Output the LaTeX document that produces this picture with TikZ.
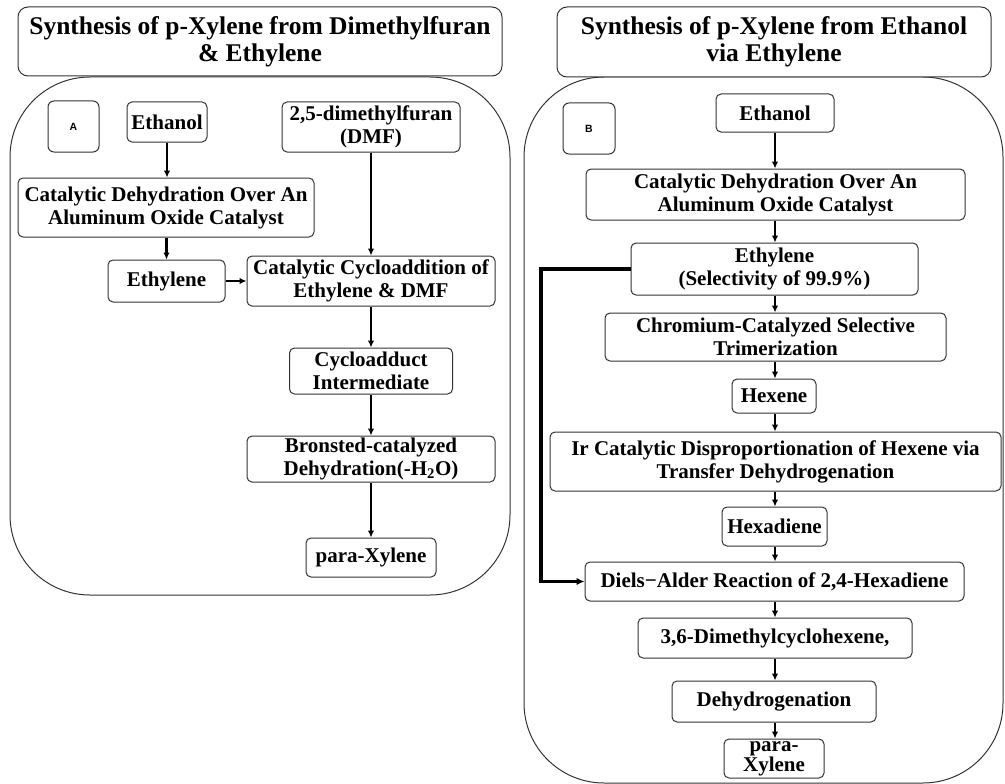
\documentclass[tikz,border=0pt]{standalone}
\usepackage{fontspec}
\setmainfont{Liberation Serif}
\newfontfamily\labelfont{Liberation Sans}
\usetikzlibrary{arrows.meta}
\begin{document}
\begin{tikzpicture}[x=1pt,y=-1pt,
 box/.style={draw=black!80, line width=1pt, rounded corners=5pt, fill=white, align=center, inner sep=0pt, font=\fontsize{21}{23}\selectfont\bfseries},
 titlebox/.style={box, rounded corners=10pt, font=\fontsize{25.5}{27}\selectfont\bfseries},
 panel/.style={draw=black!80, line width=1pt, rounded corners=80pt},
 arr/.style={line width=2.2pt, -{Latex[length=7pt,width=6.5pt]}},
 farr/.style={line width=3.5pt, -{Latex[length=8pt,width=7.5pt]}},
 tag/.style={draw=black!80, line width=1pt, rounded corners=6pt, inner sep=0pt, font=\labelfont\fontsize{10.5}{12}\selectfont\bfseries}
]
\useasboundingbox (0,0) rectangle (1005,784);
% panels
\draw[panel] (10,77) rectangle (510,595);
\draw[panel] (524,77) rectangle (1003,783);
% titles
\node[titlebox, minimum width=484pt, minimum height=69pt] (tA) at (260,41.5) {Synthesis of p-Xylene from Dimethylfuran\\\& Ethylene};
\node[titlebox, minimum width=434pt, minimum height=70pt] (tB) at (774,42) {Synthesis of p-Xylene from Ethanol\\via Ethylene};
% left panel
\node[tag, minimum width=51pt, minimum height=51pt] (tagA) at (73.5,126.5) {A};
\node[box, minimum width=80pt, minimum height=40pt] (eth1) at (167,122) {Ethanol};
\node[box, minimum width=178pt, minimum height=50pt] (dmf) at (371,127) {2,5-dimethylfuran\\(DMF)};
\node[box, minimum width=296pt, minimum height=59pt] (dehyd1) at (166,207.5) {Catalytic Dehydration Over An\\Aluminum Oxide Catalyst};
\node[box, minimum width=117pt, minimum height=42pt] (ethy1) at (166.5,281) {Ethylene};
\node[box, minimum width=248pt, minimum height=50pt] (cyc) at (371,281) {Catalytic Cycloaddition of\\Ethylene \& DMF};
\node[box, minimum width=163pt, minimum height=46pt] (adduct) at (371,371) {Cycloadduct\\Intermediate};
\node[box, minimum width=248pt, minimum height=46pt] (bron) at (371,459) {Bronsted-catalyzed\\Dehydration(-H\textsubscript{2}O)};
\node[box, minimum width=130pt, minimum height=39pt] (px1) at (371,557.5) {para-Xylene};
\draw[arr] (eth1.south) -- (eth1.south |- dehyd1.north);
\draw[arr] (dehyd1.south -| ethy1.north) -- (ethy1.north);
\draw[arr] (ethy1) -- (cyc);
\draw[arr] (dmf) -- (cyc);
\draw[arr] (cyc) -- (adduct);
\draw[arr] (adduct) -- (bron);
\draw[arr] (bron) -- (px1);
% right panel
\node[tag, minimum width=52pt, minimum height=51pt] (tagB) at (589,128.5) {B};
\node[box, minimum width=118pt, minimum height=38pt] (eth2) at (775,113) {Ethanol};
\node[box, minimum width=379pt, minimum height=51pt] (dehyd2) at (775.5,194.5) {Catalytic Dehydration Over An\\Aluminum Oxide Catalyst};
\node[box, minimum width=287pt, minimum height=52pt] (ethy2) at (774.5,269) {Ethylene\\(Selectivity of 99.9\%)};
\node[box, minimum width=341pt, minimum height=48pt] (chrom) at (775.5,337) {Chromium-Catalyzed Selective\\Trimerization};
\node[box, minimum width=84pt, minimum height=34pt] (hexene) at (774,396) {Hexene};
\node[box, minimum width=451pt, minimum height=59pt] (ir) at (775.5,461.5) {Ir Catalytic Disproportionation of Hexene via\\Transfer Dehydrogenation};
\node[box, minimum width=105pt, minimum height=39pt] (hexadiene) at (774.5,526.5) {Hexadiene};
\node[box, minimum width=379pt, minimum height=39pt] (da) at (774.5,581.5) {Diels−Alder Reaction of 2,4-Hexadiene};
\node[box, minimum width=274pt, minimum height=40pt] (dmch) at (775,638) {3,6-Dimethylcyclohexene,};
\node[box, minimum width=204pt, minimum height=41pt] (dehydro) at (774,701.5) {Dehydrogenation};
\node[box, minimum width=100pt, minimum height=39pt, font=\fontsize{21}{20}\selectfont\bfseries] (px2) at (774,758.5) {para-\\Xylene};
\foreach \a/\b in {eth2/dehyd2, dehyd2/ethy2, ethy2/chrom, chrom/hexene, hexene/ir, ir/hexadiene, hexadiene/da, da/dmch, dmch/dehydro, dehydro/px2}
  \draw[arr] (\a.south -| eth2) -- (\b.north -| eth2);
\coordinate (fb) at (541,269);
\draw[farr] (ethy2.west) -- (fb) |- (da.west);
\end{tikzpicture}
\end{document}
